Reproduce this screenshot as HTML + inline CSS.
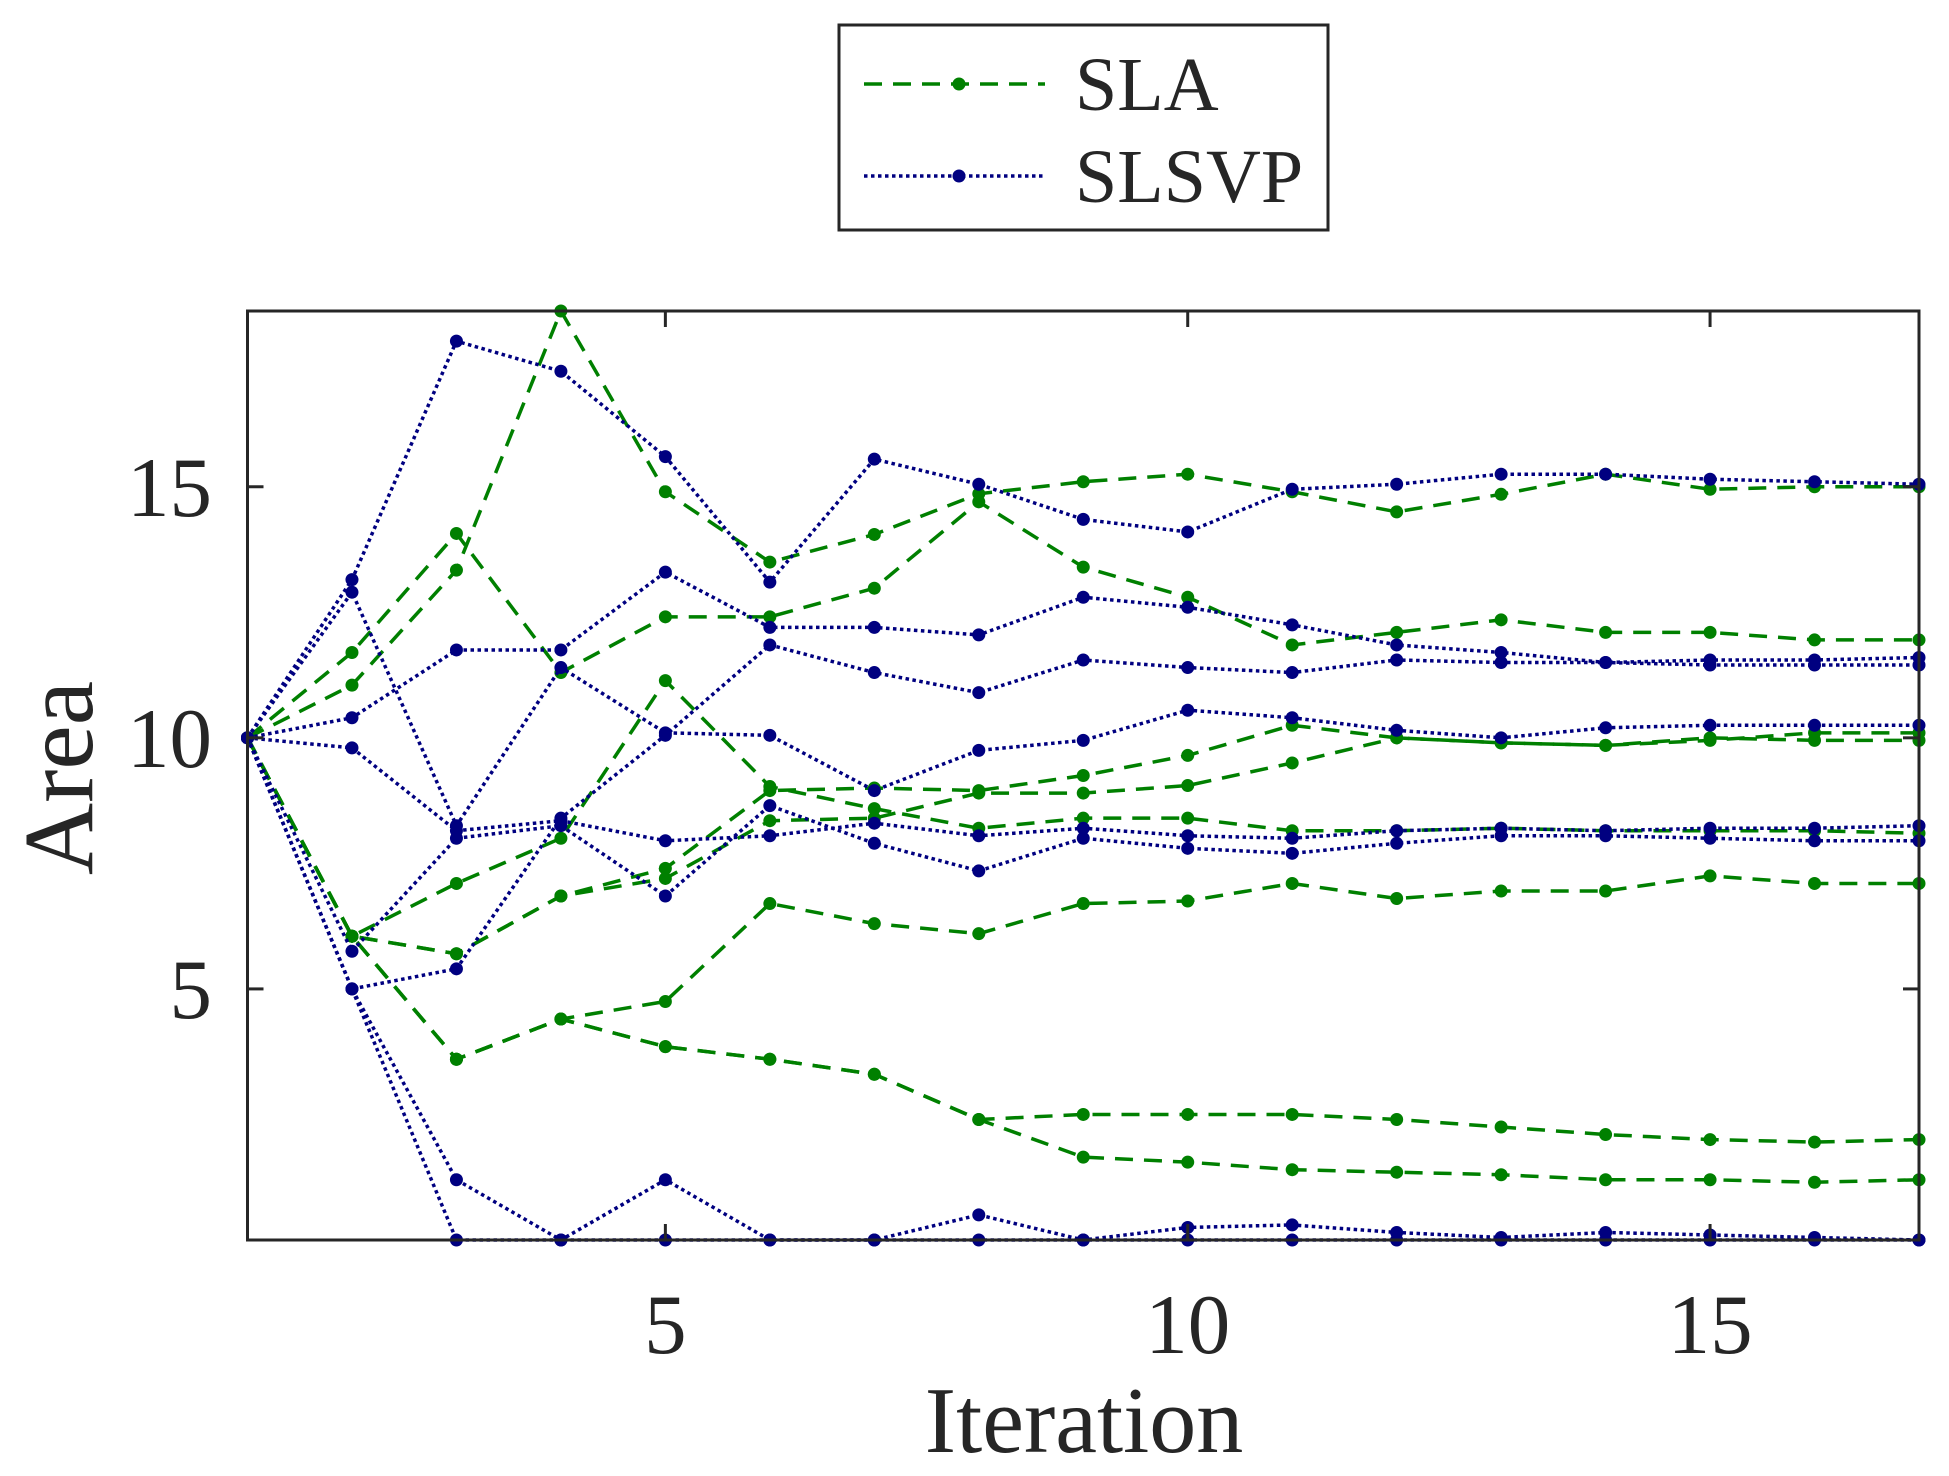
<!DOCTYPE html>
<html><head><meta charset="utf-8"><style>
html,body{margin:0;padding:0;background:#fff;}
svg{display:block;font-family:"Liberation Serif",serif;}
</style></head><body>
<svg id="chart" width="1949" height="1476" viewBox="0 0 1949 1476">
<g id="series"></g>
<rect x="247.5" y="311" width="1671.5" height="929" fill="none" stroke="#262626" stroke-width="3"/>
<g id="axes"></g>
<text x="1084" y="1452" font-size="94" text-anchor="middle" fill="#262626">Iteration</text>
<text transform="translate(92,778) rotate(-90)" font-size="100" text-anchor="middle" fill="#262626">Area</text>
<g>
<rect x="839" y="25" width="489" height="205" fill="#fff" stroke="#262626" stroke-width="3"/>
<g>
<line x1="864" y1="84" x2="1045" y2="84" stroke="#008000" stroke-width="3.5" stroke-dasharray="18 11"/>
<circle cx="959" cy="84" r="6.5" fill="#008000"/>
<text x="1075" y="110" font-size="76" fill="#262626">SLA</text>
</g>
<g>
<line x1="864" y1="176" x2="1045" y2="176" stroke="#000080" stroke-width="3.5" stroke-dasharray="3.5 3.5"/>
<circle cx="959" cy="176" r="6.5" fill="#000080"/>
<text x="1075" y="202" font-size="76" fill="#262626">SLSVP</text>
</g>
</g>
</svg>
<script>
const iterations = [1,2,3,4,5,6,7,8,9,10,11,12,13,14,15,16,17];
const slaSeries = [
 [10,11.05,13.34,18.5,14.9,13.5,14.05,14.86,15.1,15.25,14.9,14.5,14.85,15.25,14.95,15.0,15.0],
 [10,11.7,14.07,11.3,12.41,12.41,12.98,14.7,13.4,12.8,11.85,12.1,12.35,12.1,12.1,11.95,11.95],
 [10,6.05,7.1,8.0,11.14,9.03,8.59,8.2,8.4,8.4,8.15,8.15,8.2,8.15,8.15,8.15,8.1],
 [10,6.05,5.7,6.85,7.4,8.95,9.0,8.95,9.25,9.65,10.25,10.0,9.9,9.85,9.95,10.1,10.1],
 [10,6.05,5.7,6.85,7.2,8.35,8.4,8.9,8.9,9.05,9.5,10.0,9.9,9.85,10.0,9.95,9.95],
 [10,6.05,3.6,4.4,4.75,6.7,6.3,6.1,6.7,6.75,7.1,6.8,6.95,6.95,7.25,7.1,7.1],
 [10,6.05,3.6,4.4,3.85,3.6,3.3,2.4,2.5,2.5,2.5,2.4,2.25,2.1,2.0,1.95,2.0],
 [10,6.05,3.6,4.4,3.85,3.6,3.3,2.4,1.65,1.55,1.4,1.35,1.3,1.2,1.2,1.15,1.2]
];
const slsvpSeries = [
 [10,13.15,17.9,17.3,15.6,13.1,15.55,15.05,14.35,14.1,14.95,15.05,15.25,15.25,15.15,15.1,15.05],
 [10,12.9,8.25,11.4,10.1,10.05,8.95,9.75,9.95,10.55,10.4,10.15,10.0,10.2,10.25,10.25,10.25],
 [10,10.4,11.75,11.75,13.3,12.2,12.2,12.05,12.8,12.6,12.25,11.85,11.7,11.5,11.55,11.55,11.6],
 [10,9.8,8.15,8.35,7.95,8.05,8.3,8.05,8.2,8.05,8.0,8.15,8.2,8.15,8.2,8.2,8.25],
 [10,5.75,8.0,8.25,6.85,8.65,7.9,7.35,8.0,7.8,7.7,7.9,8.05,8.05,8.0,7.95,7.95],
 [10,5.0,5.4,8.4,10.05,11.85,11.3,10.9,11.55,11.4,11.3,11.55,11.5,11.5,11.45,11.45,11.45],
 [10,5.0,1.2,0,1.2,0,0,0.5,0,0.25,0.3,0.15,0.05,0.15,0.1,0.05,0],
 [10,5.0,0,0,0,0,0,0,0,0,0,0,0,0,0,0,0]
];
const xTicks = [5,10,15];
const yTicks = [5,10,15];

const L=247.5,R=1919,T=311,B=1240,XMIN=1,XMAX=17,YMIN=0,YMAX=18.5;
function xs(v){return L+(v-XMIN)/(XMAX-XMIN)*(R-L);}
function ys(v){return B-(v-YMIN)/(YMAX-YMIN)*(B-T);}
const NS='http://www.w3.org/2000/svg';
const sg=document.getElementById('series');
const ax=document.getElementById('axes');

function drawSeries(list,color,dash,name){
  list.forEach((vals,i)=>{
    const g=document.createElementNS(NS,'g');
    
    
    const p=document.createElementNS(NS,'polyline');
    p.setAttribute('points', vals.map((v,j)=>xs(iterations[j])+','+ys(v)).join(' '));
    p.setAttribute('fill','none');p.setAttribute('stroke',color);
    p.setAttribute('stroke-width','3.5');p.setAttribute('stroke-dasharray',dash);
    
    
    g.appendChild(p);
    vals.forEach((v,j)=>{
      const c=document.createElementNS(NS,'circle');
      c.setAttribute('cx',xs(iterations[j]));c.setAttribute('cy',ys(v));
      c.setAttribute('r','6.5');c.setAttribute('fill',color);
      
      
      g.appendChild(c);
    });
    sg.appendChild(g);
  });
}
drawSeries(slaSeries,'#008000','18 11','sla');
drawSeries(slsvpSeries,'#000080','3.5 3.5','slsvp');

function line(x1,y1,x2,y2){
  const l=document.createElementNS(NS,'line');
  l.setAttribute('x1',x1);l.setAttribute('y1',y1);l.setAttribute('x2',x2);l.setAttribute('y2',y2);
  l.setAttribute('stroke','#262626');l.setAttribute('stroke-width','3');
  
  
  ax.appendChild(l);
}
function label(x,y,t,anchor,name){
  const e=document.createElementNS(NS,'text');
  e.setAttribute('x',x);e.setAttribute('y',y);e.setAttribute('font-size','85');
  e.setAttribute('text-anchor',anchor);e.setAttribute('fill','#262626');
  e.textContent=t;
  
  
  ax.appendChild(e);
}
xTicks.forEach(v=>{
  const x=xs(v);
  line(x,B,x,B-16);line(x,T,x,T+16);
  label(x,1353,String(v),'middle','x-tick-label');
});
yTicks.forEach(v=>{
  const y=ys(v);
  line(L,y,L+16,y);line(R,y,R-16,y);
  label(212,y+29,String(v),'end','y-tick-label');
});
</script>
</body></html>
